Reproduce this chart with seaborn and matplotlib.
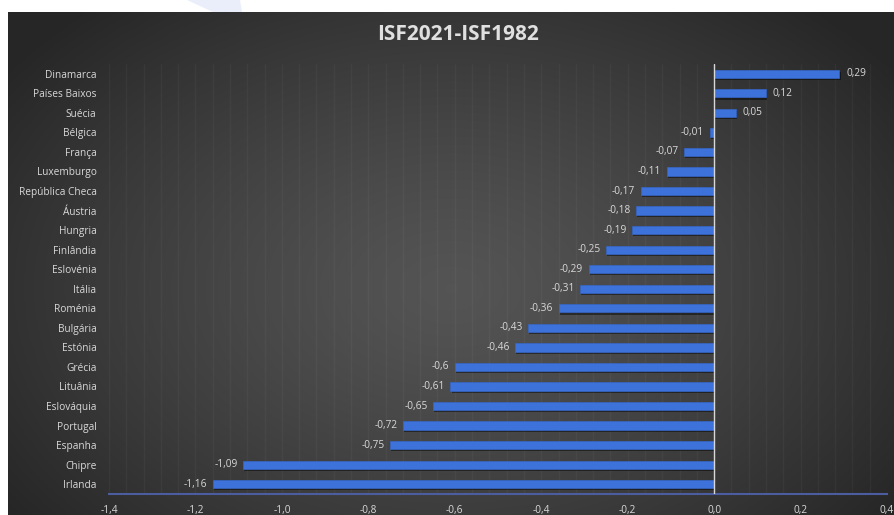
import numpy as np
import matplotlib
matplotlib.use("Agg")
import matplotlib.pyplot as plt
import matplotlib.patheffects as pe
from matplotlib.patches import Polygon
import seaborn as sns
import pandas as pd

countries = ["Dinamarca", "Países Baixos", "Suécia", "Bélgica", "França", "Luxemburgo",
             "República Checa", "Áustria", "Hungria", "Finlândia", "Eslovénia", "Itália",
             "Roménia", "Bulgária", "Estónia", "Grécia", "Lituânia", "Eslováquia",
             "Portugal", "Espanha", "Chipre", "Irlanda"]
values = [0.29, 0.12, 0.05, -0.01, -0.07, -0.11, -0.17, -0.18, -0.19, -0.25, -0.29, -0.31,
          -0.36, -0.43, -0.46, -0.6, -0.61, -0.65, -0.72, -0.75, -1.09, -1.16]
xticks = [-1.4, -1.2, -1.0, -0.8, -0.6, -0.4, -0.2, 0.0, 0.2, 0.4]
title = "ISF2021-ISF1982"

sns.set_theme(style="white")
plt.rcParams['font.family'] = ['Open Sans', 'DejaVu Sans']

W, H = 895, 515
fig = plt.figure(figsize=(W / 100, H / 100), dpi=100, facecolor="white")

# faint watermark shape in top white band
fig.patches.append(Polygon([[187 / W, 1], [240 / W, 1], [242 / W, 1 - 12 / H], [213 / W, 1 - 12 / H]],
                           closed=True, transform=fig.transFigure, facecolor="#e9eefa",
                           edgecolor="none", zorder=0))

# dark gradient panel
bg = fig.add_axes([8 / W, 0, (W - 8) / W, (H - 12) / H])
ny, nx = 300, 500
yy, xx = np.mgrid[0:1:ny * 1j, 0:1:nx * 1j]
r = np.sqrt(((xx - 0.5) / 0.62) ** 2 + ((yy - 0.55) / 0.75) ** 2)
r = np.clip(r, 0, 1)
g = 0.33 - (0.33 - 0.15) * r ** 1.3
img = np.dstack([g, g, g])
bg.imshow(img, aspect="auto", extent=[0, 1, 0, 1], origin="upper", interpolation="bilinear")
bg.set_axis_off()

df = pd.DataFrame({"country": countries, "value": values})

ax = fig.add_axes([109 / W, (H - 494) / H, (887 - 109) / W, (494 - 64) / H])
ax.patch.set_alpha(0)

# faint vertical gridlines every 0.04
for gx in np.arange(-1.4, 0.4001, 0.04):
    ax.axvline(gx, color="white", alpha=0.035, lw=1, zorder=0)

sns.barplot(data=df, x="value", y="country", orient="h", color="#3d72da",
            width=0.42, ax=ax, saturation=1, edgecolor="#3566c8", linewidth=0.5, zorder=3)
for p in ax.patches:
    p.set_path_effects([pe.SimplePatchShadow(offset=(0.8, -1.5), shadow_rgbFace="black", alpha=0.45),
                        pe.Normal()])

ax.set_xlim(-1.4, 0.4)
ax.set_ylim(len(countries) - 0.5, -0.5)
ax.set_xticks(xticks)
ax.set_xticklabels([f"{t:.1f}".replace(".", ",") for t in xticks])
ax.set_xlabel("")
ax.set_ylabel("")
ax.tick_params(axis="x", colors="#d9d9d9", labelsize=7.3, length=0, pad=8)
ax.tick_params(axis="y", colors="#d9d9d9", labelsize=7.3, length=0, pad=9)
for lab in ax.get_xticklabels() + ax.get_yticklabels():
    lab.set_color("#d9d9d9")

for s in ["top", "right", "left"]:
    ax.spines[s].set_visible(False)
ax.spines["bottom"].set_color("#4b5d9e")
ax.spines["bottom"].set_linewidth(1.5)

ax.axvline(0, color="#d8d8d8", lw=1, zorder=4)

for i, v in enumerate(values):
    lab = f"{v:g}".replace(".", ",")
    if v >= 0:
        ax.annotate(lab, (v, i), xytext=(5, 0), textcoords="offset points",
                    ha="left", va="center", color="#d9d9d9", fontsize=7.3)
    else:
        ax.annotate(lab, (v, i), xytext=(-4, 0), textcoords="offset points",
                    ha="right", va="center", color="#d9d9d9", fontsize=7.3)

fig.text(458 / W, 1 - 35 / H, title, ha="center", va="center", color="#e0e0e0",
         fontsize=15, fontweight="bold")

fig.savefig("out.png", dpi=100, facecolor="white")
